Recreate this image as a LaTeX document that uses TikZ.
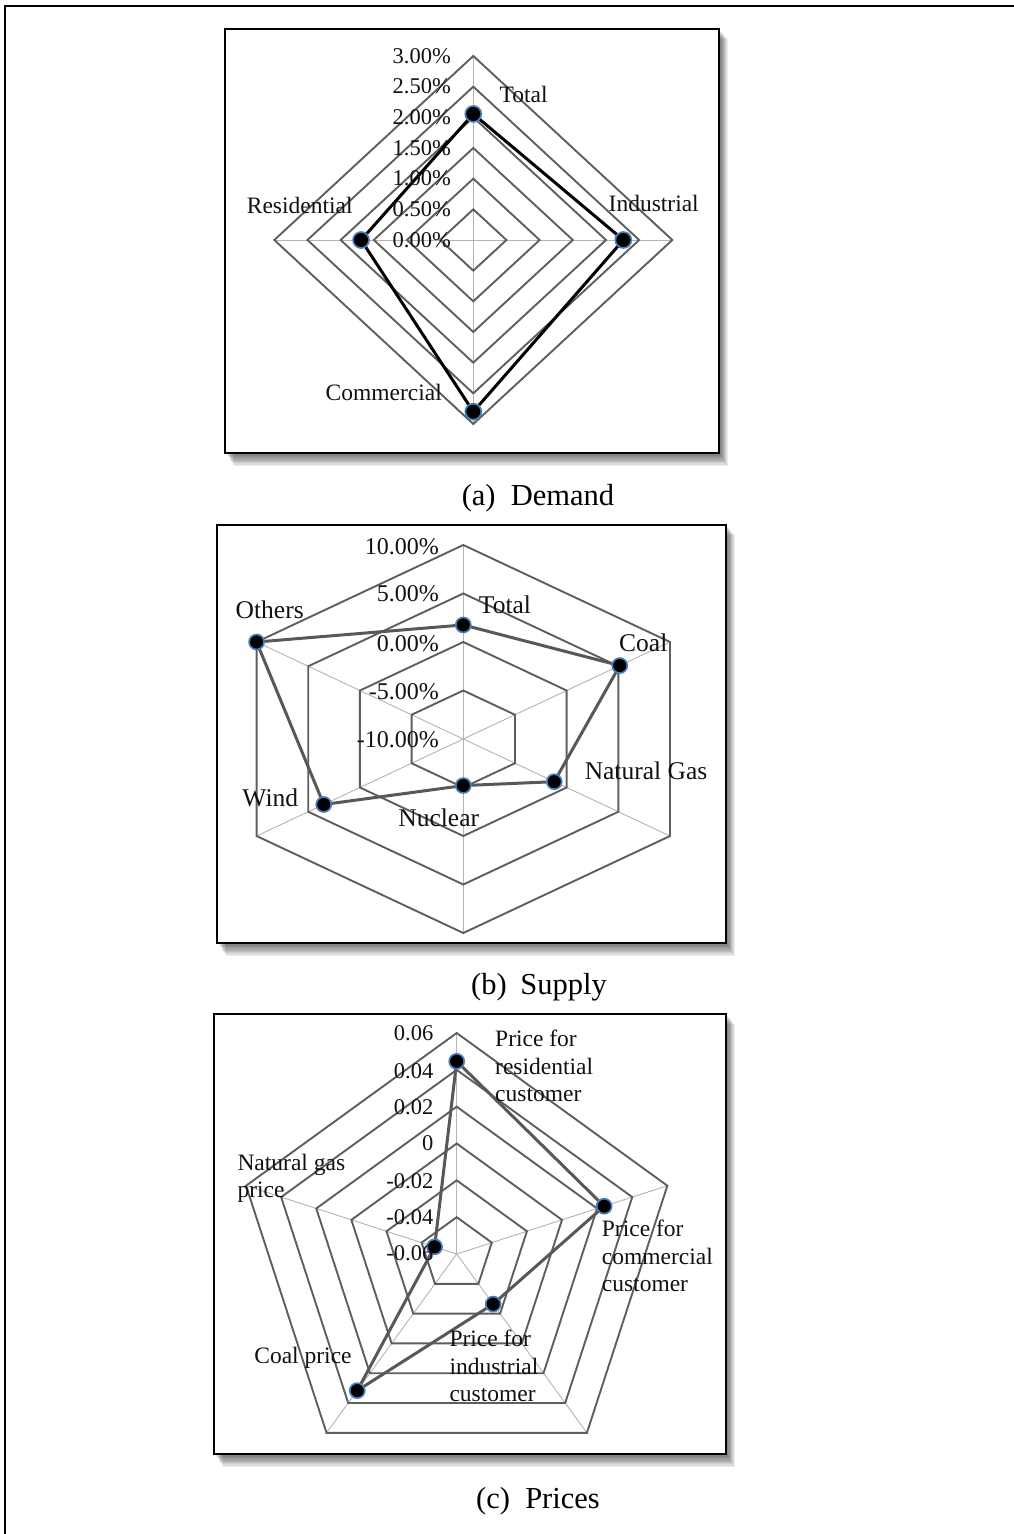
\documentclass[tikz,border=0pt]{standalone}
\usepackage{fontspec}
\setmainfont{Liberation Serif}
\definecolor{ringgray}{HTML}{5E5E5E}
\definecolor{spokegray}{HTML}{B4B4B4}
\definecolor{dotblue}{HTML}{4A7EBB}
\definecolor{datagray}{HTML}{585858}
\definecolor{txt}{HTML}{111111}
\begin{document}
\begin{tikzpicture}[x=1pt,y=-1pt,
  frame/.style={line width=2pt,draw=black},
  chartbox/.style={line width=2pt,draw=black,fill=white},
  ring/.style={draw=ringgray,line width=1.9pt,line join=miter},
  spoke/.style={draw=spokegray,line width=0.9pt},
  dataA/.style={draw=black,line width=3pt,line join=round},
  dataB/.style={draw=datagray,line width=3pt,line join=round},
  datadot/.style={circle,fill=black,draw=dotblue,line width=1.7pt,inner sep=0pt,minimum size=#1},
  datadot/.default=15pt,
  labA/.style={text=txt,inner sep=0pt,font=\fontsize{23.5}{27.5}\selectfont},
  labB/.style={text=txt,inner sep=0pt,font=\fontsize{25.5}{29}\selectfont},
  labC/.style={text=txt,inner sep=0pt,align=left,font=\fontsize{23.5}{27.5}\selectfont},
  axA/.style={text=txt,inner sep=0pt,anchor=east,font=\fontsize{22.5}{26}\selectfont},
  axB/.style={text=txt,inner sep=0pt,anchor=east,font=\fontsize{24}{28}\selectfont},
  caption/.style={text=black,inner sep=0pt,font=\fontsize{30.5}{34}\selectfont}]
\useasboundingbox (0,0) rectangle (1014,1534);
\draw[frame] (5,1534) -- (5,6) -- (1014,6);

% ---------------- (a) Demand ----------------
\foreach \d in {1,...,10} \fill[black,opacity=0.07] (225+0.9*\d,29+\d) rectangle (719+0.9*\d,453+1.3*\d);
\draw[chartbox] (225,29) rectangle (719,453);
\begin{scope}[shift={(473.3,240)},x=199pt,y=184pt]
  \foreach \a in {90,0,-90,180} \draw[spoke] (0,0) -- (\a:1);
  \foreach \k [evaluate=\k as \r using \k/6] in {1,...,6}
    \draw[ring] (90:\r) -- (0:\r) -- (-90:\r) -- (180:\r) -- cycle;
  \coordinate (aT) at (90:0.685);
  \coordinate (aI) at (0:0.754);
  \coordinate (aC) at (-90:0.933);
  \coordinate (aR) at (180:0.564);
\end{scope}
\draw[dataA] (aT) -- (aI) -- (aC) -- (aR) -- cycle;
\node[datadot=16pt] (naT) at (aT) {};
\node[datadot=16pt] (naI) at (aI) {};
\node[datadot=16pt] (naC) at (aC) {};
\node[datadot=16pt] (naR) at (aR) {};
\foreach \v [count=\i from 0] in {0.00\%,0.50\%,1.00\%,1.50\%,2.00\%,2.50\%,3.00\%}
  \node[axA] (axa\i) at (451,{240-184*\i/6}) {\v};
\node[labA] (laT) at (523.7,94) {Total};
\node[labA] (laI) at (653.7,203.3) {Industrial};
\node[labA] (laR) at (299.7,205) {Residential};
\node[labA] (laC) at (383.7,392.7) {Commercial};
\node[caption] (capa) at (538,498) {(a)\hspace{0.5em}Demand};

% ---------------- (b) Supply ----------------
\foreach \d in {1,...,10} \fill[black,opacity=0.07] (217+0.9*\d,525+\d) rectangle (726+0.9*\d,943+1.3*\d);
\draw[chartbox] (217,525) rectangle (726,943);
\begin{scope}[shift={(463.3,739)},x=238.7pt,y=194pt]
  \foreach \a in {90,30,-30,-90,-150,150} \draw[spoke] (0,0) -- (\a:1);
  \foreach \k [evaluate=\k as \r using \k/4] in {1,...,4}
    \draw[ring] (90:\r) -- (30:\r) -- (-30:\r) -- (-90:\r) -- (-150:\r) -- (150:\r) -- cycle;
  \coordinate (bT) at (90:0.588);
  \coordinate (bC) at (30:0.757);
  \coordinate (bG) at (-30:0.44);
  \coordinate (bN) at (-90:0.24);
  \coordinate (bW) at (-150:0.675);
  \coordinate (bO) at (150:1);
\end{scope}
\draw[dataB] (bT) -- (bC) -- (bG) -- (bN) -- (bW) -- (bO) -- cycle;
\foreach \p in {bT,bC,bG,bN,bW,bO} \node[datadot] (n\p) at (\p) {};
\node[axB] (axb4) at (439,546.7) {10.00\%};
\node[axB] (axb3) at (439,594) {5.00\%};
\node[axB] (axb2) at (439,643.3) {0.00\%};
\node[axB] (axb1) at (439,691.7) {-5.00\%};
\node[axB] (axb0) at (439,740) {-10.00\%};
\node[labB] (lbT) at (505,605) {Total};
\node[labB] (lbC) at (643.3,642.3) {Coal};
\node[labB] (lbG) at (646,770.7) {Natural Gas};
\node[labB] (lbN) at (438.7,817.7) {Nuclear};
\node[labB] (lbW) at (270.3,798.3) {Wind};
\node[labB] (lbO) at (269.7,610) {Others};
\node[caption] (capb) at (539,987) {(b)\hspace{0.45em}Supply};

% ---------------- (c) Prices ----------------
\foreach \d in {1,...,10} \fill[black,opacity=0.07] (214+0.9*\d,1014+\d) rectangle (726+0.9*\d,1454+1.3*\d);
\draw[chartbox] (214,1014) rectangle (726,1454);
\begin{scope}[shift={(456.7,1254)},x=221.5pt,y=221pt]
  \foreach \a in {90,18,-54,-126,162} \draw[spoke] (0,0) -- (\a:1);
  \foreach \k [evaluate=\k as \r using \k/6] in {1,...,6}
    \draw[ring] (90:\r) -- (18:\r) -- (-54:\r) -- (-126:\r) -- (162:\r) -- cycle;
  \coordinate (cR) at (90:0.872);
  \coordinate (cM) at (18:0.70);
  \coordinate (cI) at (-54:0.28);
  \coordinate (cC) at (-126:0.764);
  \coordinate (cG) at (162:0.105);
\end{scope}
\draw[dataB] (cR) -- (cM) -- (cI) -- (cC) -- (cG) -- cycle;
\foreach \p in {cR,cM,cI,cC,cG} \node[datadot] (n\p) at (\p) {};
\foreach \v/\yy [count=\i] in {0.06/1033.3,0.04/1070.7,0.02/1106.7,0/1143.3,-0.02/1180.7,-0.04/1216.7,-0.06/1253.3}
  \node[axA] (axc\i) at (433.5,\yy) {\v};
\node[labC,anchor=north west] (lcR) at (495,1030) {Price for\\residential\\customer};
\node[labC,anchor=north west] (lcM) at (601.7,1220) {Price for\\commercial\\customer};
\node[labC,anchor=north west] (lcI) at (449.3,1330) {Price for\\industrial\\customer};
\node[labC,anchor=north west] (lcG) at (237.3,1153.7) {Natural gas\\price};
\node[labC] (lcC) at (303,1357.7) {Coal price};
\node[caption] (capc) at (538,1501) {(c)\hspace{0.5em}Prices};
\end{tikzpicture}
\end{document}
